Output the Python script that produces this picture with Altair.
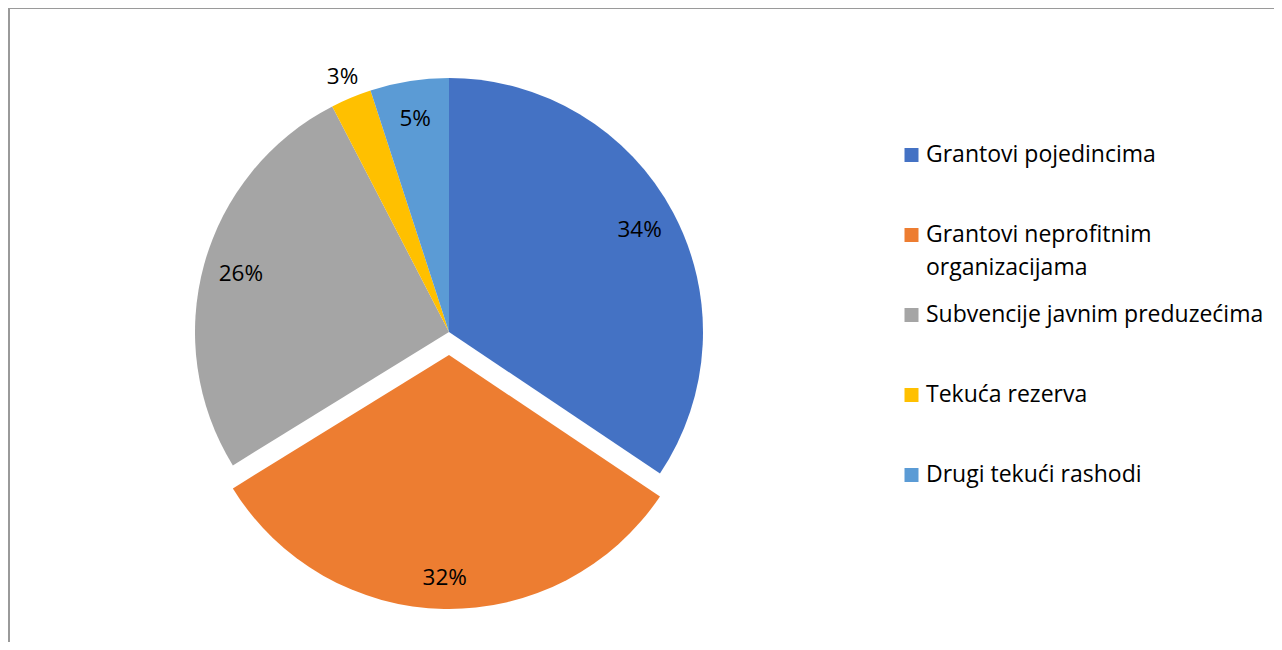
import altair as alt
import pandas as pd

categories = [
    "Grantovi pojedincima",
    "Grantovi neprofitnim organizacijama",
    "Subvencije javnim preduzećima",
    "Tekuća rezerva",
    "Drugi tekući rashodi",
]
legend_text = [
    "Grantovi pojedincima",
    "Grantovi neprofitnim\norganizacijama",
    "Subvencije javnim preduzećima",
    "Tekuća rezerva",
    "Drugi tekući rashodi",
]
values = [34.4, 31.8, 26.2, 2.6, 5.0]
pct_labels = ["34%", "32%", "26%", "3%", "5%"]
exploded = [0, 1, 0, 0, 0]
colors = ["#4472C4", "#ED7D31", "#A5A5A5", "#FFC000", "#5B9BD5"]

df = pd.DataFrame({
    "idx": list(range(len(categories))),
    "cat": categories,
    "legend": legend_text,
    "value": values,
    "pct": pct_labels,
    "exploded": exploded,
})

W, H = 1266, 634
CX, CY = 441, 324
EXPLODE = 23
R = 254
FONT = "Open Sans"

color = alt.Color("cat:N", scale=alt.Scale(domain=categories, range=colors), legend=None)
theta_scale = alt.Scale(domain=[0, 100])

base = alt.Chart(df).transform_stack(
    stack="value", as_=["start", "end"], groupby=[], sort=[alt.SortField("idx")]
).transform_calculate(
    mid="(datum.start + datum.end) / 2",
    cy=f"{CY} + datum.exploded * {EXPLODE}",
    lr="datum.value < 4 ? 276 : (datum.exploded ? 223 : 216)",
)

arcs = base.mark_arc(radius=R).encode(
    theta=alt.Theta("start:Q", scale=theta_scale, stack=None),
    theta2="end:Q",
    x=alt.value(CX),
    y=alt.Y("cy:Q", scale=None, stack=None),
    color=color,
)

labels = base.mark_text(font=FONT, fontSize=22.5, color="#000000", align="center", baseline="middle").encode(
    theta=alt.Theta("mid:Q", scale=theta_scale, stack=None),
    radius=alt.Radius("lr:Q", scale=None, stack=None),
    x=alt.value(CX),
    y=alt.Y("cy:Q", scale=None, stack=None),
    text="pct:N",
)

leg_y = alt.Y("idx:Q", scale=alt.Scale(domain=[0, 4], range=[147, 467]), axis=None, stack=None)

leg_sym = alt.Chart(df).mark_point(shape="square", filled=True, size=196, opacity=1).encode(
    x=alt.value(903.5),
    y=leg_y,
    color=color,
)

leg_txt = alt.Chart(df).mark_text(
    font=FONT, fontSize=23, align="left", baseline="middle", lineBreak="\n", lineHeight=33, color="#000000"
).encode(
    x=alt.value(918),
    y=leg_y,
    text="legend:N",
)

border_left = alt.Chart(df).mark_rule(color="#9a9a9a", strokeWidth=2).encode(
    x=alt.value(1), y=alt.value(0), y2=alt.value(H)
)
border_top = alt.Chart(df).mark_rule(color="#9a9a9a", strokeWidth=1).encode(
    x=alt.value(0), x2=alt.value(W), y=alt.value(0.5)
)

chart = alt.layer(arcs, labels, leg_sym, leg_txt, border_left, border_top).resolve_scale(
    y="independent"
).properties(
    width=W, height=H, padding=0, autosize=alt.AutoSizeParams(type="none")
).configure_view(stroke=None)

chart.save("out.html", embed_options={"renderer": "svg", "actions": False})
